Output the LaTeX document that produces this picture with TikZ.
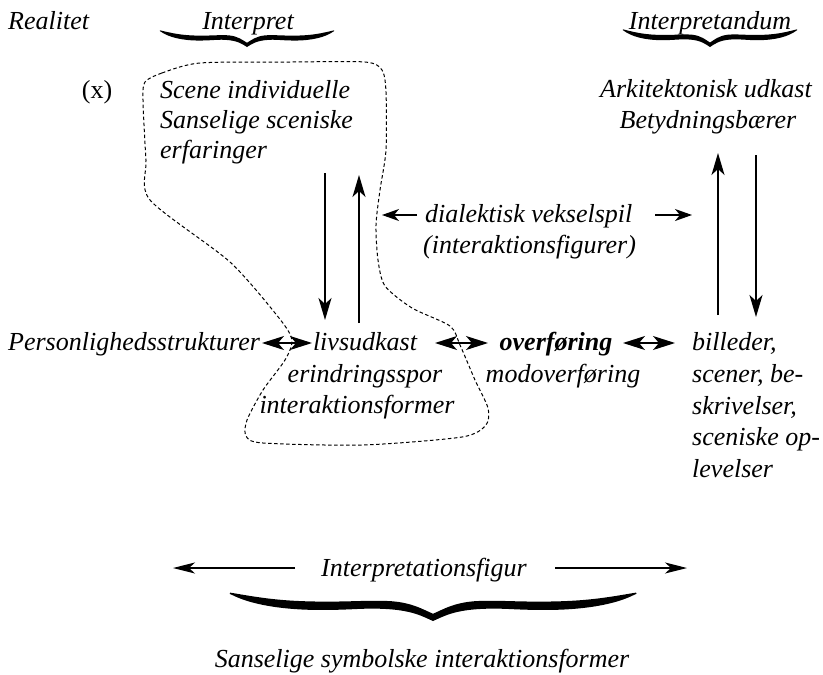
\documentclass[tikz,border=0pt]{standalone}
\usepackage{fontspec}
\setmainfont{Liberation Serif}
\usetikzlibrary{arrows.meta}
\newcommand\mybrace[4]{% cx, ytop, halfwidth, depth
  \begin{scope}[shift={(#1,#2)}, xscale=#3, yscale=#4]
    \fill (-1,0.02) .. controls (-0.85,0.2) and (-0.75,0.32) .. (-0.55,0.33)
      .. controls (-0.4,0.34) and (-0.3,0.27) .. (-0.2,0.32)
      .. controls (-0.1,0.38) and (-0.05,0.6) .. (0,0.75)
      .. controls (0.05,0.6) and (0.1,0.38) .. (0.2,0.32)
      .. controls (0.3,0.27) and (0.4,0.34) .. (0.55,0.33)
      .. controls (0.75,0.32) and (0.85,0.2) .. (1,0.02)
      .. controls (1.01,0.05) and (1.0,0.08) .. (0.99,0.1)
      .. controls (0.9,0.42) and (0.75,0.62) .. (0.55,0.62)
      .. controls (0.4,0.62) and (0.35,0.55) .. (0.25,0.58)
      .. controls (0.1,0.62) and (0.05,0.85) .. (0,1)
      .. controls (-0.05,0.85) and (-0.1,0.62) .. (-0.25,0.58)
      .. controls (-0.35,0.55) and (-0.4,0.62) .. (-0.55,0.62)
      .. controls (-0.75,0.62) and (-0.9,0.42) .. (-0.99,0.1)
      .. controls (-1.0,0.08) and (-1.01,0.05) .. cycle;
  \end{scope}}
\begin{document}
\begin{tikzpicture}[x=1pt,y=-1pt,
  txt/.style={inner sep=0pt, font=\fontsize{26}{30}\selectfont\itshape},
  rtxt/.style={inner sep=0pt, font=\fontsize{26}{30}\selectfont},
  arr/.style={line width=1.3pt, -{Stealth[length=22pt,width=13pt,inset=6pt]}},
  dbl/.style={line width=1.3pt, {Stealth[length=22pt,width=14pt,inset=6pt]}-{Stealth[length=22pt,width=14pt,inset=6pt]}},
  sarr/.style={line width=1.3pt, -{Stealth[length=17pt,width=12pt,inset=5pt]}},
  barr/.style={line width=1.3pt, -{Stealth[length=22pt,width=11pt,inset=6pt]}},
  dashline/.style={line width=1pt, dash pattern=on 3.5pt off 2.5pt}]
\useasboundingbox (0,0) rectangle (823,675);

% headings
\node[txt, anchor=base west] (real) at (8,29) {Realitet};
\node[txt, anchor=base] (interp) at (248,29) {Interpret};
\node[txt, anchor=base] (interpd) at (710,29) {Interpretandum};
\mybrace{247}{30}{87}{17}
\mybrace{710}{29}{87}{18}

% upper left
\node[rtxt, anchor=base] (x) at (97,98) {(x)};
\node[txt, anchor=base west] (scene) at (160,98) {Scene individuelle};
\node[txt, anchor=base west] (sans) at (160,128) {Sanselige sceniske};
\node[txt, anchor=base west] (erf) at (160,158) {erfaringer};

% upper right
\node[txt, anchor=base] (ark) at (706,97) {Arkitektonisk udkast};
\node[txt, anchor=base] (bet) at (708,128) {Betydningsbærer};

% dialektisk
\node[txt, anchor=base west] (dial) at (425,222) {dialektisk vekselspil};
\node[txt, anchor=base west] (ifig) at (423,253) {(interaktionsfigurer)};
\coordinate (dl1) at (417,215); \coordinate (dl2) at (382,215);
\coordinate (dr1) at (655,215); \coordinate (dr2) at (692,215);
\draw[sarr] (dl1) -- (dl2);
\draw[sarr] (dr1) -- (dr2);

% middle row
\node[txt, anchor=base west] (pers) at (8,350) {Personlighedsstrukturer};
\node[txt, anchor=base] (livs) at (365,350) {livsudkast};
\node[txt, anchor=base] (erin) at (365,382) {erindringsspor};
\node[txt, anchor=base] (intf) at (357,413) {interaktionsformer};
\node[txt, anchor=base] (over) at (556,350) {\bfseries overføring};
\node[txt, anchor=base] (modo) at (563,382) {modoverføring};
\node[txt, anchor=base west] (b1) at (692,350) {billeder,};
\node[txt, anchor=base west] (b2) at (692,382) {scener, be-};
\node[txt, anchor=base west] (b3) at (692,414) {skrivelser,};
\node[txt, anchor=base west] (b4) at (692,445) {sceniske op-};
\node[txt, anchor=base west] (b5) at (692,477) {levelser};

\coordinate (p1) at (262,343); \coordinate (p2) at (312,343);
\coordinate (p3) at (435,343); \coordinate (p4) at (488,343);
\coordinate (p5) at (623,343); \coordinate (p6) at (675,343);
\draw[dbl] (p1) -- (p2);
\draw[dbl] (p3) -- (p4);
\draw[dbl] (p5) -- (p6);

% vertical arrows
\coordinate (d1s) at (325,173); \coordinate (d1e) at (325,320);
\coordinate (u1s) at (359,323); \coordinate (u1e) at (359,175);
\coordinate (u2s) at (718,315); \coordinate (u2e) at (718,153);
\coordinate (d2s) at (756,155); \coordinate (d2e) at (756,317);
\draw[arr] (d1s) -- (d1e);
\draw[arr] (u1s) -- (u1e);
\draw[arr] (u2s) -- (u2e);
\draw[arr] (d2s) -- (d2e);

% dashed region
\draw[dashline]
  plot[smooth cycle, tension=0.45] coordinates {
  (145,82) (162,73) (200,63) (290,62) (365,62) (382,70) (386,92) (386,150)
  (380,190) (376,225) (378,260) (385,286) (412,308) (450,326) (460,345)
  (475,380) (488,408) (486,425) (462,437) (363,445) (263,443) (246,436)
  (247,420) (263,390) (285,360) (292,340) (279,318) (230,262) (150,200)
  (146,160) (143,100)};

% bottom
\node[txt, anchor=base] (ipf) at (424,576) {Interpretationsfigur};
\coordinate (bl1) at (295,568); \coordinate (bl2) at (173,568);
\coordinate (br1) at (555,568); \coordinate (br2) at (687,568);
\draw[barr] (bl1) -- (bl2);
\draw[barr] (br1) -- (br2);
\mybrace{433}{592}{203}{29}
\node[txt, anchor=base] (ssi) at (422,667) {Sanselige symbolske interaktionsformer};
\end{tikzpicture}
\end{document}
